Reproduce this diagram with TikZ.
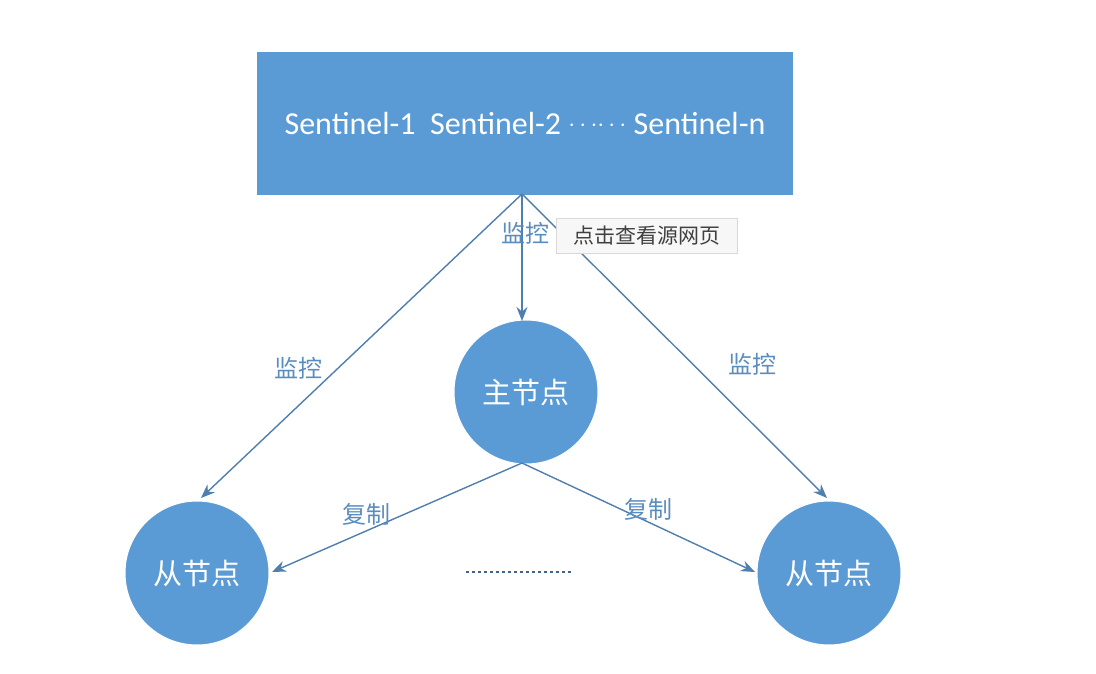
\documentclass[tikz,border=0pt]{standalone}
\usepackage{fontspec}
\setmainfont{Carlito}
\newfontfamily\cjk{Noto Sans CJK SC}
\usetikzlibrary{arrows.meta}
\definecolor{boxblue}{HTML}{5B9BD5}
\definecolor{linecol}{HTML}{4F7FAE}
\definecolor{lblcol}{HTML}{5A8DBF}
\begin{document}
\begin{tikzpicture}[x=1pt,y=-1pt,
  conn/.style={draw=linecol, line width=1.4pt, -{Stealth[length=14pt,width=11pt]}},
  circ/.style={circle, fill=boxblue, draw=white, line width=1pt, minimum size=144pt, inner sep=0pt, text=white, font=\cjk\fontsize{29}{30}\selectfont},
  lbl/.style={text=lblcol, font=\cjk\fontsize{24}{26}\selectfont, inner sep=1pt}]
\useasboundingbox (0,0) rectangle (1096,674);
\fill[white] (0,0) rectangle (1096,674);
\node[fill=boxblue, minimum width=536pt, minimum height=143pt, inner sep=0pt, text=white,
  font=\fontsize{32}{34}\selectfont] (sent) at (525,124) {Sentinel-1\ \ Sentinel-2 \raisebox{0.2ex}{\fontsize{26}{26}\selectfont$\cdots\!\cdots$} Sentinel-n};
\node[circ] (master) at (526,392) {主节点};
\node[circ] (s1) at (197,573) {从节点};
\node[circ] (s2) at (829,573) {从节点};
\coordinate (top) at (522,194);
\coordinate (mb) at (522,463);
\draw[conn] (top) -- (201,498);
\draw[conn] (top) -- (522,321);
\draw[conn] (top) -- (827,498);
\draw[conn] (mb) -- (272,572);
\draw[conn] (mb) -- (755,572);
\node[lbl] (l1) at (525,233) {监控};
\node[lbl] (l2) at (298,368) {监控};
\node[lbl] (l3) at (752,364) {监控};
\node[lbl] (c1) at (366,514) {复制};
\node[lbl] (c2) at (648,509) {复制};
\draw[linecol!80!black, line width=2.5pt, dash pattern=on 3pt off 3pt] (466,572) -- (572,572);
\node[fill=gray!6, draw=gray!30, minimum width=181pt, minimum height=35pt, inner sep=0pt,
  text=black!75, font=\cjk\fontsize{21}{22}\selectfont] (tip) at (646.5,235.5) {点击查看源网页};
\end{tikzpicture}
\end{document}
